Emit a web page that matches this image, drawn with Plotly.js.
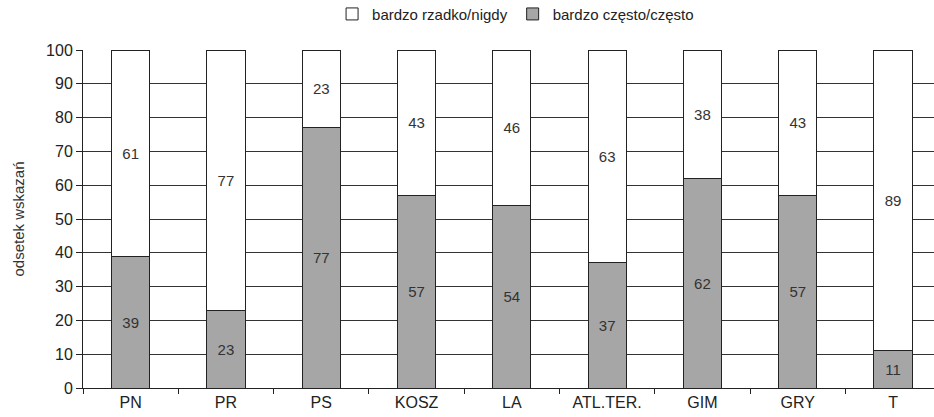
<!DOCTYPE html>
<html>
<head>
<meta charset="utf-8">
<script src="https://cdn.plot.ly/plotly-3.0.1.min.js"></script>
<style>html,body{margin:0;padding:0;overflow:hidden;background:#fff;}</style>
</head>
<body>
<div id="chart" style="width:934px;height:417px;"></div>
<script>
var categories = ["PN", "PR", "PS", "KOSZ", "LA", "ATL.TER.", "GIM", "GRY", "T"];
var oftenValues = [39, 23, 77, 57, 54, 37, 62, 57, 11];
var rarelyValues = [61, 77, 23, 43, 46, 63, 38, 43, 89];
var yTicks = [0, 10, 20, 30, 40, 50, 60, 70, 80, 90, 100];

var fam = "Liberation Sans, Arial, sans-serif";
var font = {family: fam, size: 15, color: "#222"};

var traceOften = {
  type: "bar", x: categories, y: oftenValues, name: "bardzo często/często",
  text: oftenValues.map(String), textposition: "inside", insidetextanchor: "middle",
  textfont: {family: fam, size: 15, color: "#333"}, textangle: 0,
  marker: {color: "#a6a6a6", line: {color: "#222", width: 1}},
  hoverinfo: "none"
};
var traceRarely = {
  type: "bar", x: categories, y: rarelyValues, name: "bardzo rzadko/nigdy",
  text: rarelyValues.map(String), textposition: "inside", insidetextanchor: "middle",
  textfont: {family: fam, size: 15, color: "#333"}, textangle: 0,
  marker: {color: "#ffffff", line: {color: "#222", width: 1}},
  hoverinfo: "none"
};

var layout = {
  width: 934, height: 417,
  margin: {l: 83, r: 0, t: 50, b: 29, pad: 0},
  barmode: "stack", bargap: 0.6,
  paper_bgcolor: "#fff", plot_bgcolor: "#fff",
  font: font,
  showlegend: true,
  legend: {orientation: "h", xref: "container", yref: "container",
           x: 0.552, xanchor: "center", y: 0.966, yanchor: "middle",
           traceorder: "reversed",
           font: {family: fam, size: 15, color: "#222"},
           itemwidth: 30, tracegroupgap: 0},
  xaxis: {
    type: "category", range: [-0.5, 8.43], fixedrange: true,
    tickson: "boundaries", ticks: "outside", ticklen: 5, tickcolor: "#222", tickwidth: 1,
    showline: true, linecolor: "#222", linewidth: 1, showgrid: false,
    tickfont: {family: fam, size: 16, color: "#222"}
  },
  yaxis: {
    range: [0, 100], tickvals: yTicks, ticks: "outside", ticklen: 6, tickcolor: "#222",
    showline: true, linecolor: "#222", linewidth: 1,
    showgrid: true, gridcolor: "#333", gridwidth: 1, zeroline: false,
    tickfont: {family: fam, size: 16, color: "#222"},
    title: {text: "odsetek wskazań", font: {family: fam, size: 15, color: "#333"}, standoff: 17}
  }
};

Plotly.newPlot("chart", [traceOften, traceRarely], layout, {staticPlot: true, displayModeBar: false});
</script>
</body>
</html>
